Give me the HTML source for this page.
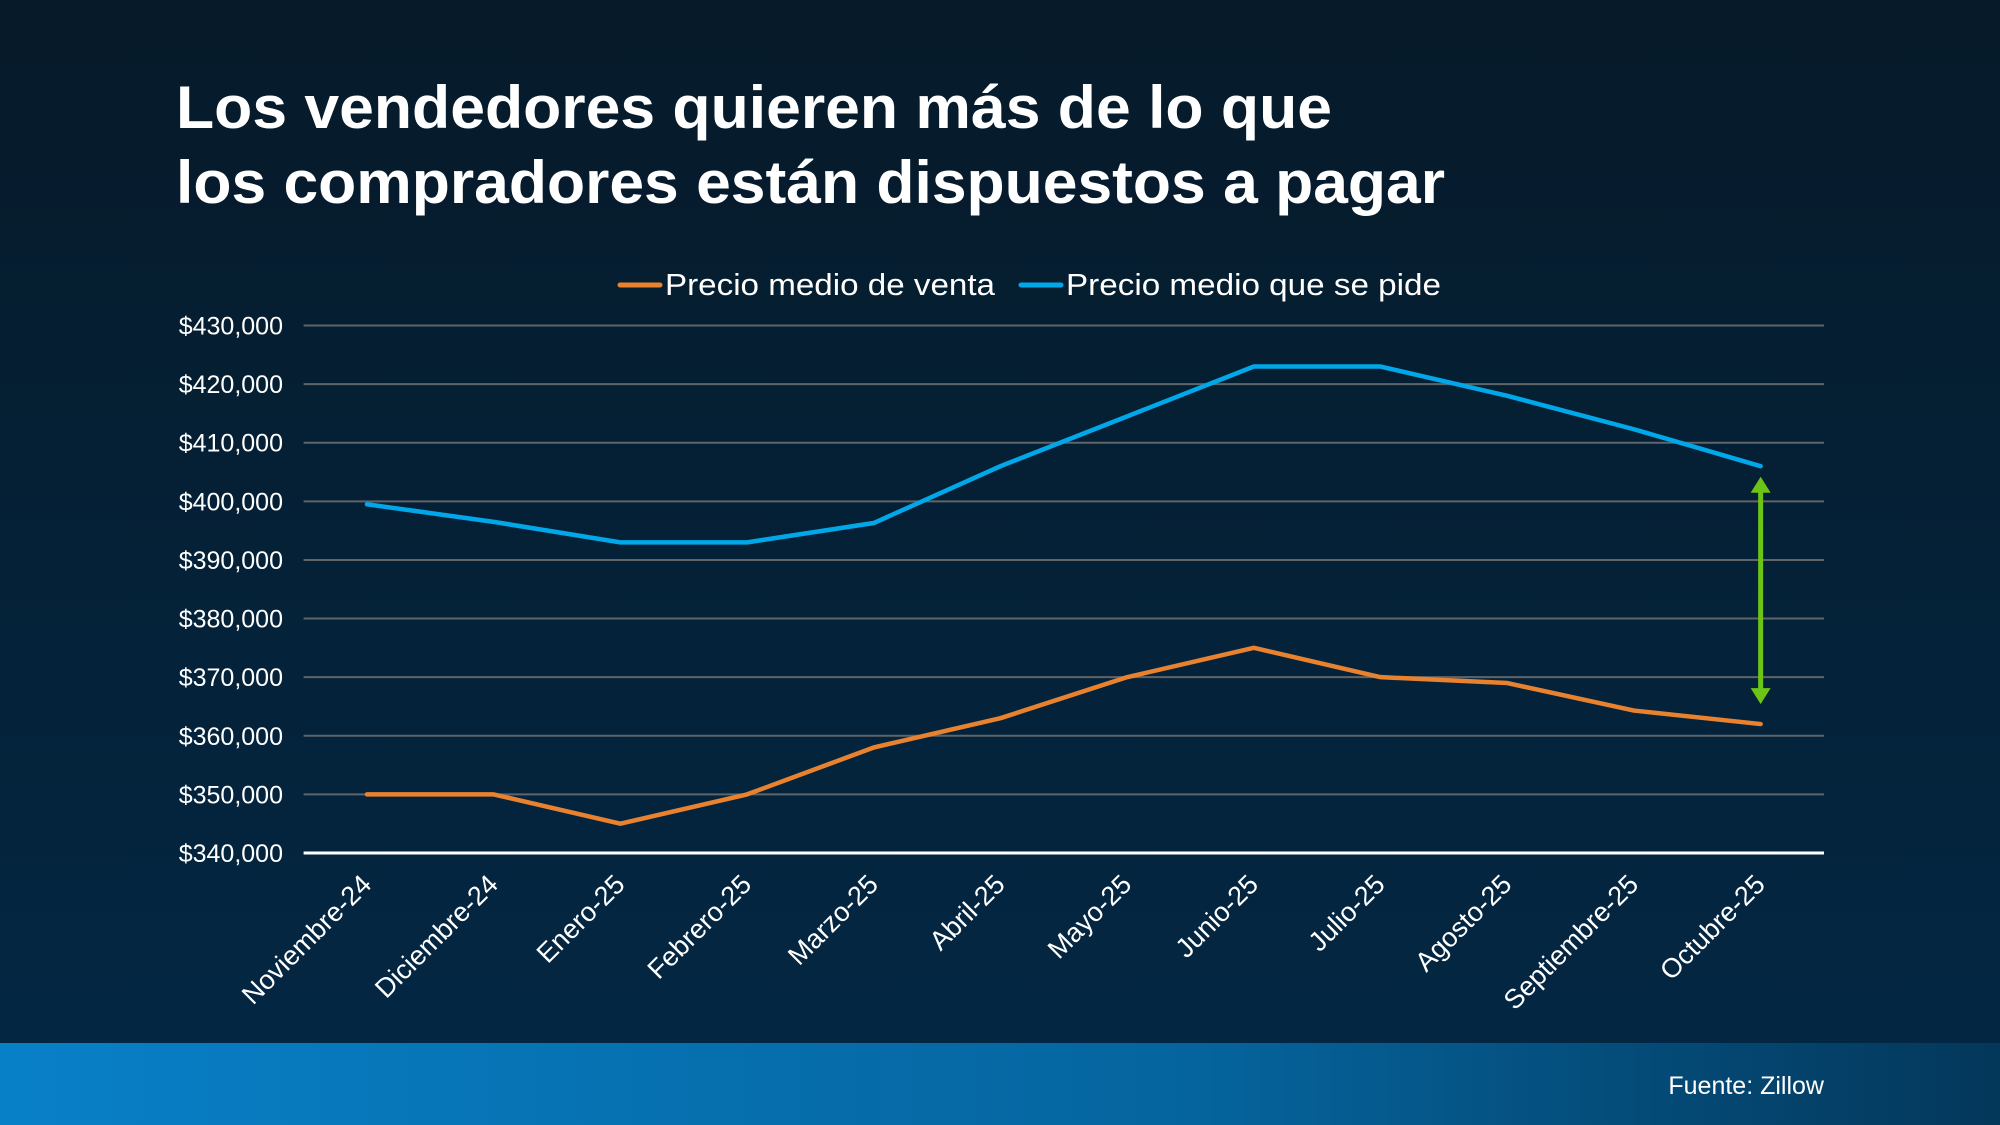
<!DOCTYPE html>
<html><head><meta charset="utf-8"><style>
html,body{margin:0;padding:0;width:2000px;height:1125px;overflow:hidden;background:#05192a}
svg{display:block;font-family:"Liberation Sans",sans-serif}
</style></head><body>
<svg id="chart" width="2000" height="1125" viewBox="0 0 2000 1125">
<defs>
<linearGradient id="bg" x1="0" y1="0" x2="0" y2="1">
<stop offset="0" stop-color="#061a29"/><stop offset="1" stop-color="#032845"/>
</linearGradient>
<linearGradient id="ft" x1="0" y1="0" x2="1" y2="0">
<stop offset="0" stop-color="#0880c8"/><stop offset="0.6" stop-color="#05649d"/><stop offset="1" stop-color="#04375a"/>
</linearGradient>
</defs>
<rect width="2000" height="1125" fill="url(#bg)"/>
<rect y="1043" width="2000" height="82" fill="url(#ft)"/>
<text x="1824" y="1094" fill="#fff" font-size="25" text-anchor="end">Fuente: Zillow</text>
<text x="176" y="128" fill="#fff" font-size="60" font-weight="bold" textLength="1156" lengthAdjust="spacingAndGlyphs">Los vendedores quieren más de lo que</text>
<text x="176" y="203" fill="#fff" font-size="60" font-weight="bold" textLength="1269" lengthAdjust="spacingAndGlyphs">los compradores están dispuestos a pagar</text>
<g>
<line x1="620" y1="285" x2="660" y2="285" stroke="#e8822f" stroke-width="5" stroke-linecap="round"/>
<text x="665" y="295" fill="#fff" font-size="31" textLength="330" lengthAdjust="spacingAndGlyphs">Precio medio de venta</text>
<line x1="1021" y1="285" x2="1061" y2="285" stroke="#00a8ea" stroke-width="5" stroke-linecap="round"/>
<text x="1066" y="295" fill="#fff" font-size="31" textLength="375" lengthAdjust="spacingAndGlyphs">Precio medio que se pide</text>
</g>
<g id="grid"></g><g id="xl"></g><g id="series"></g>
</svg>
<script>
const categories=["Noviembre-24","Diciembre-24","Enero-25","Febrero-25","Marzo-25","Abril-25","Mayo-25","Junio-25","Julio-25","Agosto-25","Septiembre-25","Octubre-25"];
const ventaValues=[350000,350000,345000,350000,358000,363000,370000,375000,370000,369000,364300,362000];
const pideValues=[399500,396500,393000,393000,396300,406000,414500,423000,423000,418000,412300,406000];
const yTicks=[340000,350000,360000,370000,380000,390000,400000,410000,420000,430000];
const gapArrow=[404200,365400];
const NS="http://www.w3.org/2000/svg";
const L=303.6,R=1824,Y0=853,Y1=325.5,ymin=340000,ymax=430000;
const band=(R-L)/categories.length;
function xS(i){return L+band*(i+0.5);}
function yS(v){return Y0-(v-ymin)/(ymax-ymin)*(Y0-Y1);}
function mk(t,a,p){const e=document.createElementNS(NS,t);for(const k in a)e.setAttribute(k,a[k]);p.appendChild(e);return e;}
const grid=document.getElementById('grid');
yTicks.forEach(v=>{
  const y=yS(v);
  if(v!==ymin){const g=mk('line',{x1:L,x2:R,y1:y,y2:y,stroke:'#5f6468','stroke-width':2},grid);
  
  }
  const t=mk('text',{x:283,y:y+9,fill:'#fff','font-size':25,'text-anchor':'end'},grid);
  t.textContent='$'+v.toLocaleString('en-US');
  
  
});
const ax=mk('line',{x1:L,x2:R,y1:Y0,y2:Y0,stroke:'#fff','stroke-width':3},grid);


const xl=document.getElementById('xl');
categories.forEach((c,i)=>{
  const x=xS(i)+6,y=886;
  const t=mk('text',{x:x,y:y,fill:'#fff','font-size':27,'text-anchor':'end',transform:`rotate(-45 ${x} ${y})`},xl);
  t.textContent=c;
  
  
});
const s=document.getElementById('series');
function line(vals,col,name){
  const p=mk('polyline',{points:vals.map((v,i)=>xS(i)+','+yS(v)).join(' '),fill:'none',stroke:col,'stroke-width':4.5,'stroke-linejoin':'round','stroke-linecap':'round'},s);
  
  
}
line(ventaValues,'#e8822f','series-venta-line');
line(pideValues,'#00a8ea','series-pide-line');
const ai=categories.length-1,axx=xS(ai),ya=yS(gapArrow[0]),yb=yS(gapArrow[1]);
const ag=mk('g',{},s);


mk('line',{x1:axx,x2:axx,y1:ya+14,y2:yb-14,stroke:'#6cc417','stroke-width':5},ag);
mk('polygon',{points:`${axx},${ya} ${axx-10},${ya+16} ${axx+10},${ya+16}`,fill:'#6cc417'},ag);
mk('polygon',{points:`${axx},${yb} ${axx-10},${yb-16} ${axx+10},${yb-16}`,fill:'#6cc417'},ag);
</script>
</body></html>
